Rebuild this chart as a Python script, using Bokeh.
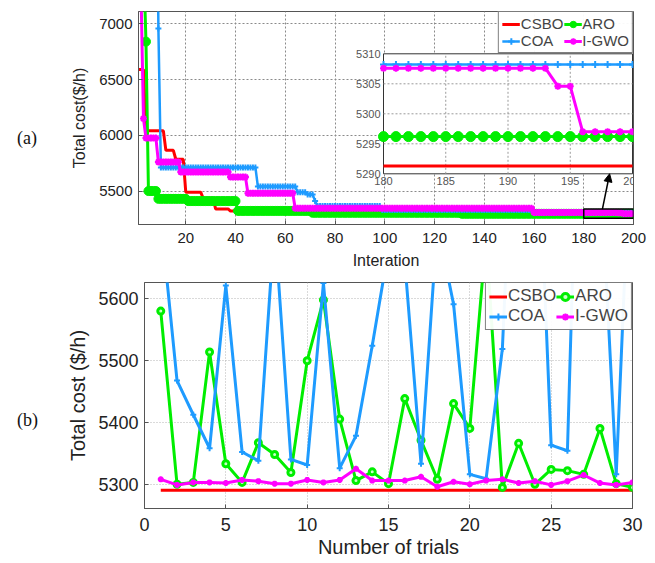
import numpy as np
from bokeh.plotting import figure
from bokeh.models import (Range1d, FixedTicker, Legend, LegendItem, Div,
                          Arrow, NormalHead)
from bokeh.layouts import column, row
from bokeh.embed import file_html
from bokeh.resources import INLINE
from bokeh.core.properties import value

# ---------------- data: (a) convergence curves (step breakpoints) ----------
n_iter = 200
csbo_start = [1, 4, 12, 16, 20, 27, 32, 38, 45, 70, 110]
csbo_cost = [6590, 6040, 5865, 5785, 5490, 5435, 5340, 5320, 5305, 5298, 5291.3]

aro_start = [1, 2, 3, 4, 5, 9, 21, 41, 71, 131]
aro_cost = [9000, 8200, 7600, 6840, 5500, 5430, 5410, 5322, 5305, 5296.2]

coa_start = [1, 9, 10, 49, 65, 69, 72, 73, 99, 160]
coa_cost = [9500, 6958, 5712, 5540, 5490, 5470, 5410, 5365, 5330, 5308.2]

igwo_start = [1, 2, 3, 4, 9, 18, 38, 45, 64, 160, 194, 196]
igwo_cost = [9000, 7300, 6150, 5975, 5760, 5670, 5625, 5480, 5345, 5307.6, 5304.6, 5297.0]

x_ticks_a = [20, 40, 60, 80, 100, 120, 140, 160, 180, 200]
y_ticks_a = [5500, 6000, 6500, 7000]
inset_x_ticks = [180, 185, 190, 195, 200]
inset_y_ticks = [5290, 5295, 5300, 5305, 5310]

# ---------------- data: (b) 30 independent trials ----------------
trials = list(range(1, 31))
csbo_trial = [5291.3, 5291.3, 5291.3, 5291.3, 5291.3, 5291.3, 5291.3, 5291.3, 5291.3, 5291.3,
              5291.3, 5291.3, 5291.3, 5291.3, 5291.3, 5291.3, 5291.3, 5291.3, 5291.3, 5291.3,
              5291.3, 5291.3, 5291.3, 5291.3, 5291.3, 5291.3, 5291.3, 5291.3, 5291.3, 5291.3]
aro_trial = [5580, 5301, 5304, 5514, 5334, 5304, 5368, 5349, 5320, 5500,
             5598, 5406, 5307, 5321, 5302, 5439, 5372, 5309, 5431, 5391,
             5700, 5296, 5367, 5301, 5325, 5323, 5317, 5391, 5302, 5296]
coa_trial = [5730, 5468, 5413, 5359, 5621, 5353, 5339, 5720, 5341, 5332,
             5625, 5327, 5379, 5524, 5680, 5660, 5334, 5720, 5591, 5317,
             5310, 5519, 6100, 6000, 5364, 5355, 6250, 5830, 5317, 5930]
igwo_trial = [5309, 5300, 5304, 5304, 5303, 5308, 5306, 5302, 5302, 5308,
              5304, 5308, 5326, 5307, 5307, 5307, 5313, 5297, 5305, 5301,
              5307, 5309, 5303, 5306, 5300, 5306, 5316, 5303, 5300, 5304]
x_ticks_b = [0, 5, 10, 15, 20, 25, 30]
y_ticks_b = [5300, 5400, 5500, 5600]

# ---------------- styling ----------------
FONT = "Liberation Sans"
RED = "#ff0000"
GREEN = "#00ee00"
BLUE = "#1e9bff"
MAGENTA = "#ff00ff"
LABEL_W = 46


def expand(starts, costs):
    counts = np.diff(starts + [n_iter + 1])
    return np.repeat(np.array(costs, dtype=float), counts)


it = np.arange(1, n_iter + 1)
csbo = expand(csbo_start, csbo_cost)
aro = expand(aro_start, aro_cost)
coa = expand(coa_start, coa_cost)
igwo = expand(igwo_start, igwo_cost)


def style_axes(p, tick_size, label_size, grid_color, grid_dash):
    for ax in (p.xaxis, p.yaxis):
        ax.major_label_text_font = FONT
        ax.major_label_text_font_size = tick_size
        ax.major_label_text_color = "#222222"
        ax.axis_label_text_font = FONT
        ax.axis_label_text_font_size = label_size
        ax.axis_label_text_font_style = "normal"
        ax.axis_label_text_color = "#222222"
        ax.major_tick_in = 4
        ax.major_tick_out = 0
        ax.minor_tick_line_color = None
        ax.axis_line_color = "#555555"
        ax.major_tick_line_color = "#555555"
    p.outline_line_color = "#555555"
    p.outline_line_alpha = 1
    for g in (p.xgrid, p.ygrid):
        g.grid_line_color = grid_color
        g.grid_line_dash = grid_dash
        g.grid_line_width = 1


def panel_tag(text, height, top):
    html = ('<div style="margin-top:%dpx;margin-left:17px;white-space:nowrap;'
            'font-family:\'Liberation Serif\';font-size:18px;line-height:22px;'
            'color:#111">%s</div>' % (top, text))
    return Div(text=html, width=LABEL_W, height=height, margin=0)


# ================= figure (a) =================
p1 = figure(frame_width=495, frame_height=213,
            min_border_left=138 - LABEL_W, min_border_right=14,
            min_border_top=11, min_border_bottom=46,
            x_range=Range1d(1, 200), y_range=Range1d(5200, 7110),
            output_backend="svg", toolbar_location=None)
p1.xaxis.ticker = FixedTicker(ticks=x_ticks_a)
p1.yaxis.ticker = FixedTicker(ticks=y_ticks_a)
p1.xaxis.axis_label = "Interation"
p1.yaxis.axis_label = "Total cost($/h)"
style_axes(p1, "15px", "16px", "#8a8a8a", "2 2")
p1.xaxis.major_label_standoff = 8
p1.yaxis.major_label_standoff = 6
p1.xaxis.axis_label_standoff = 6
p1.yaxis.axis_label_standoff = 8

r_c = p1.line(it, csbo, color=RED, line_width=3)
r_a = p1.line(it, aro, color=GREEN, line_width=3)
s_a = p1.scatter(it, aro, marker="circle", size=9, fill_color=GREEN, line_color=GREEN)
r_o = p1.line(it, coa, color=BLUE, line_width=2.5)
s_o = p1.scatter(it, coa, marker="cross", size=6, line_color=BLUE, line_width=2)
r_g = p1.line(it, igwo, color=MAGENTA, line_width=3)
s_g = p1.scatter(it, igwo, marker="asterisk", size=7, line_color=MAGENTA, line_width=2)

# zoom rectangle on main plot
p1.quad(left=inset_x_ticks[0], right=inset_x_ticks[-1], bottom=5255, top=5338,
        fill_alpha=0, line_color="black", line_width=1.5)
p1.add_layout(Arrow(end=NormalHead(size=8, fill_color="black", line_color="black"),
                    x_start=187.5, y_start=5338, x_end=190.4, y_end=5655,
                    line_color="black", line_width=1.5))

# inset (zoom of iterations 180-200) via extra ranges
p1.extra_x_ranges = {"ix": Range1d(160.32, 200.08)}
p1.extra_y_ranges = {"iy": Range1d(5281.55, 5317.05)}
IK = dict(x_range_name="ix", y_range_name="iy")
p1.quad(left=inset_x_ticks[0], right=inset_x_ticks[-1],
        bottom=inset_y_ticks[0], top=inset_y_ticks[-1],
        fill_color="white", line_color="#333333", line_width=1, **IK)
p1.segment(x0=inset_x_ticks[1:-1], y0=[inset_y_ticks[0]] * 3,
           x1=inset_x_ticks[1:-1], y1=[inset_y_ticks[-1]] * 3,
           line_color="#9a9a9a", line_dash="2 2", line_width=1, **IK)
p1.segment(x0=[inset_x_ticks[0]] * 3, y0=inset_y_ticks[1:-1],
           x1=[inset_x_ticks[-1]] * 3, y1=inset_y_ticks[1:-1],
           line_color="#9a9a9a", line_dash="2 2", line_width=1, **IK)
m = it >= inset_x_ticks[0]
p1.line(it[m], csbo[m], color=RED, line_width=3, **IK)
p1.line(it[m], aro[m], color=GREEN, line_width=3, **IK)
p1.scatter(it[m], aro[m], marker="circle", size=10, fill_color=GREEN, line_color=GREEN, **IK)
p1.line(it[m], coa[m], color=BLUE, line_width=2.5, **IK)
p1.scatter(it[m], coa[m], marker="cross", size=7, line_color=BLUE, line_width=2, **IK)
p1.line(it[m], igwo[m], color=MAGENTA, line_width=3, **IK)
p1.scatter(it[m], igwo[m], marker="asterisk", size=7, line_color=MAGENTA, line_width=2, **IK)
p1.text(x=inset_x_ticks, y=[inset_y_ticks[0]] * 5, text=[str(v) for v in inset_x_ticks],
        text_align="center", text_baseline="top", y_offset=3,
        text_font=value(FONT), text_font_size="11px", text_color="#555555", **IK)
p1.text(x=[inset_x_ticks[0]] * 5, y=inset_y_ticks, text=[str(v) for v in inset_y_ticks],
        text_align="right", text_baseline="middle", x_offset=-3,
        text_font=value(FONT), text_font_size="11px", text_color="#555555", **IK)

leg1 = Legend(items=[LegendItem(label="CSBO", renderers=[r_c]),
                     LegendItem(label="COA", renderers=[r_o, s_o]),
                     LegendItem(label="ARO", renderers=[r_a, s_a]),
                     LegendItem(label="I-GWO", renderers=[r_g, s_g])],
              ncols=2, location="top_right", margin=0, padding=3, spacing=0,
              border_line_color="black", border_line_width=1,
              label_text_font=FONT, label_text_font_size="15px",
              glyph_width=18, glyph_height=16, label_height=16, label_standoff=1)
p1.add_layout(leg1)

# ================= figure (b) =================
p2 = figure(frame_width=488, frame_height=226,
            min_border_left=144 - LABEL_W, min_border_right=15,
            min_border_top=11, min_border_bottom=48,
            x_range=Range1d(0, 30), y_range=Range1d(5262, 5626),
            output_backend="svg", toolbar_location=None)
p2.xaxis.ticker = FixedTicker(ticks=x_ticks_b)
p2.yaxis.ticker = FixedTicker(ticks=y_ticks_b)
p2.xaxis.axis_label = "Number of trials"
p2.yaxis.axis_label = "Total cost ($/h)"
style_axes(p2, "18px", "20px", "#b5b5b5", "1 2")
p2.xaxis.major_label_standoff = 9
p2.yaxis.major_label_standoff = 6
p2.xaxis.axis_label_standoff = 2
p2.yaxis.axis_label_standoff = 6

b_c = p2.line(trials, csbo_trial, color=RED, line_width=3)
b_a = p2.line(trials, aro_trial, color=GREEN, line_width=3)
bs_a = p2.scatter(trials, aro_trial, marker="circle", size=6, fill_color="#c8ffc8",
                  line_color=GREEN, line_width=3)
b_o = p2.line(trials, coa_trial, color=BLUE, line_width=3)
bs_o = p2.scatter(trials, coa_trial, marker="cross", size=6, line_color=BLUE, line_width=2)
b_g = p2.line(trials, igwo_trial, color=MAGENTA, line_width=3)
bs_g = p2.scatter(trials, igwo_trial, marker="asterisk", size=6, line_color=MAGENTA, line_width=2)

leg2 = Legend(items=[LegendItem(label="CSBO", renderers=[b_c]),
                     LegendItem(label="COA", renderers=[b_o, bs_o]),
                     LegendItem(label="ARO", renderers=[b_a, bs_a]),
                     LegendItem(label="I-GWO", renderers=[b_g, bs_g])],
              ncols=2, location="top_right", margin=0, padding=3, spacing=0,
              border_line_color="black", border_line_width=1,
              label_text_font=FONT, label_text_font_size="17px",
              glyph_width=18, glyph_height=19, label_height=19, label_standoff=1)
p2.add_layout(leg2)

tag_a = panel_tag("(a)", 270, 127)
tag_b = panel_tag("(b)", 285, 138)

layout = column(row(tag_a, p1, spacing=0), row(tag_b, p2, spacing=0), spacing=0)
open("out.html", "w").write(file_html(layout, INLINE))
